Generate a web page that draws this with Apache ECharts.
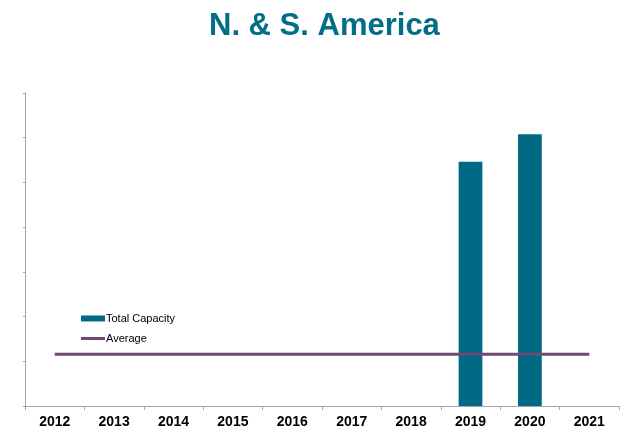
<!DOCTYPE html>
<html>
<head>
<meta charset="utf-8">
<script src="https://cdn.jsdelivr.net/npm/echarts@6/dist/echarts.min.js"></script>
<style>
  html, body { margin: 0; padding: 0; background: #fff; }
  #chart { width: 620px; height: 429px; }
</style>
</head>
<body>
<div id="chart"></div>
<script>
  // data
  var years = ['2012', '2013', '2014', '2015', '2016', '2017', '2018', '2019', '2020', '2021']
  var totalCapacity = [null, null, null, null, null, null, null, 5.46, 6.08, null]
  var average = [1.16, 1.16, 1.16, 1.16, 1.16, 1.16, 1.16, 1.16, 1.16, 1.16]

  var myChart = echarts.init(document.getElementById('chart'))
  var option = {
    backgroundColor: '#ffffff',
    animation: false,
    title: {
      text: 'N. & S. America',
      left: 204,
      top: 6,
      textStyle: {
        color: '#006e87',
        fontFamily: 'Liberation Sans, Arial',
        fontWeight: 'bold',
        fontSize: 31
      }
    },
    legend: {
      orient: 'vertical',
      left: 76,
      top: 308,
      itemWidth: 24,
      itemHeight: 6,
      itemGap: 9,
      textStyle: {
        color: '#000',
        fontFamily: 'Liberation Sans, Arial',
        fontSize: 11,
        padding: [0, 0, 0, -4]
      },
      data: [
        { name: 'Total Capacity', icon: 'rect' },
        { name: 'Average', icon: 'path://M0,2H24V5H0Z' }
      ]
    },
    grid: {
      left: 25,
      right: 1,
      top: 93,
      bottom: 22
    },
    xAxis: {
      type: 'category',
      data: years,
      axisLine: { lineStyle: { color: '#a6a6a6' } },
      axisTick: { show: true, length: 4, lineStyle: { color: '#a6a6a6' } },
      axisLabel: {
        color: '#000',
        fontWeight: 'bold',
        fontSize: 14,
        fontFamily: 'Liberation Sans, Arial',
        margin: 9
      }
    },
    yAxis: {
      type: 'value',
      min: 0,
      max: 7,
      interval: 1,
      axisLine: { show: true, lineStyle: { color: '#a6a6a6' } },
      axisTick: { show: true, length: 2, lineStyle: { color: '#a6a6a6' } },
      axisLabel: { show: false },
      splitLine: { show: false }
    },
    series: [
      {
        name: 'Total Capacity',
        type: 'bar',
        barWidth: '40%',
        itemStyle: { color: '#006a85' },
        data: totalCapacity
      },
      {
        name: 'Average',
        type: 'line',
        symbol: 'none',
        lineStyle: { color: '#704a74', width: 3 },
        itemStyle: { color: '#704a74' },
        data: average
      }
    ]
  }
  myChart.setOption(option)
</script>
</body>
</html>
